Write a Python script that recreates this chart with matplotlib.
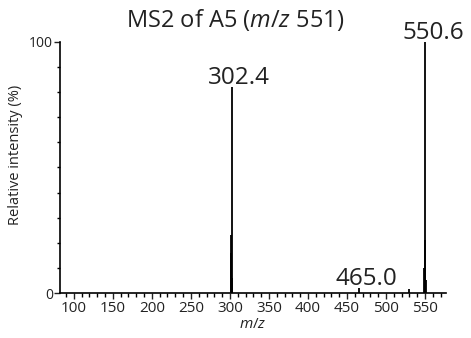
import matplotlib
matplotlib.use('Agg')
import matplotlib.pyplot as plt
from matplotlib.ticker import MultipleLocator

plt.rcParams['font.family'] = ['Open Sans', 'DejaVu Sans']
plt.rcParams['mathtext.fontset'] = 'custom'
plt.rcParams['mathtext.it'] = 'Open Sans:italic'
plt.rcParams['mathtext.rm'] = 'Open Sans'

# 峰位置 (m/z) 和相对强度 (%)
mz = [300.8, 301.6, 302.4, 303.2, 465.0, 529.0, 548.9, 549.8, 550.6, 551.4]
intensity = [16, 23, 82, 6, 2, 1.5, 10, 21, 100, 5]

# 标注的峰
label_mz = [302.4, 465.0, 550.6]
label_y = [82, 2, 100]
label_text = ['302.4', '465.0', '550.6']

x_ticks = [100, 150, 200, 250, 300, 350, 400, 450, 500, 550]

fig = plt.figure(figsize=(4.71, 3.38), dpi=100)
ax = fig.add_axes([0.127, 0.133, 0.82, 0.743])

ax.vlines(mz, 0, intensity, colors='black', linewidth=1.3)

for x, y, t in zip(label_mz, label_y, label_text):
    ax.annotate(t, (x, y), xytext=(5.5, -2), textcoords='offset points',
                ha='center', va='bottom', fontsize=17.5, color='#222222',
                annotation_clip=False)

ax.set_xlim(82, 577)
ax.set_ylim(0, 100)
ax.spines['top'].set_visible(False)
ax.spines['right'].set_visible(False)
ax.spines['left'].set_linewidth(1.2)
ax.spines['bottom'].set_linewidth(1.2)

ax.set_xticks(x_ticks)
ax.xaxis.set_minor_locator(MultipleLocator(10))
ax.set_yticks([0, 100])
ax.yaxis.set_minor_locator(MultipleLocator(10))
ax.tick_params(axis='x', which='major', length=4, width=1, labelsize=11, pad=2, colors='#222222')
ax.tick_params(axis='x', which='minor', length=3, width=1)
ax.tick_params(axis='y', which='major', length=4, width=1, labelsize=10, pad=1, colors='#222222')
ax.tick_params(axis='y', which='minor', length=2, width=1)

ax.set_xlabel('$m/z$', fontsize=11, color='#222222')
ax.xaxis.set_label_coords(0.5, -0.095)
ax.set_ylabel('Relative intensity (%)', fontsize=10.5, color='#222222')
ax.yaxis.set_label_coords(-0.096, 0.55)

fig.text(0.499, 0.94, 'MS2 of A5 ($m/z$ 551)', ha='center', va='center',
         fontsize=17, color='#222222')

plt.savefig('out.png', dpi=100)
plt.close()
